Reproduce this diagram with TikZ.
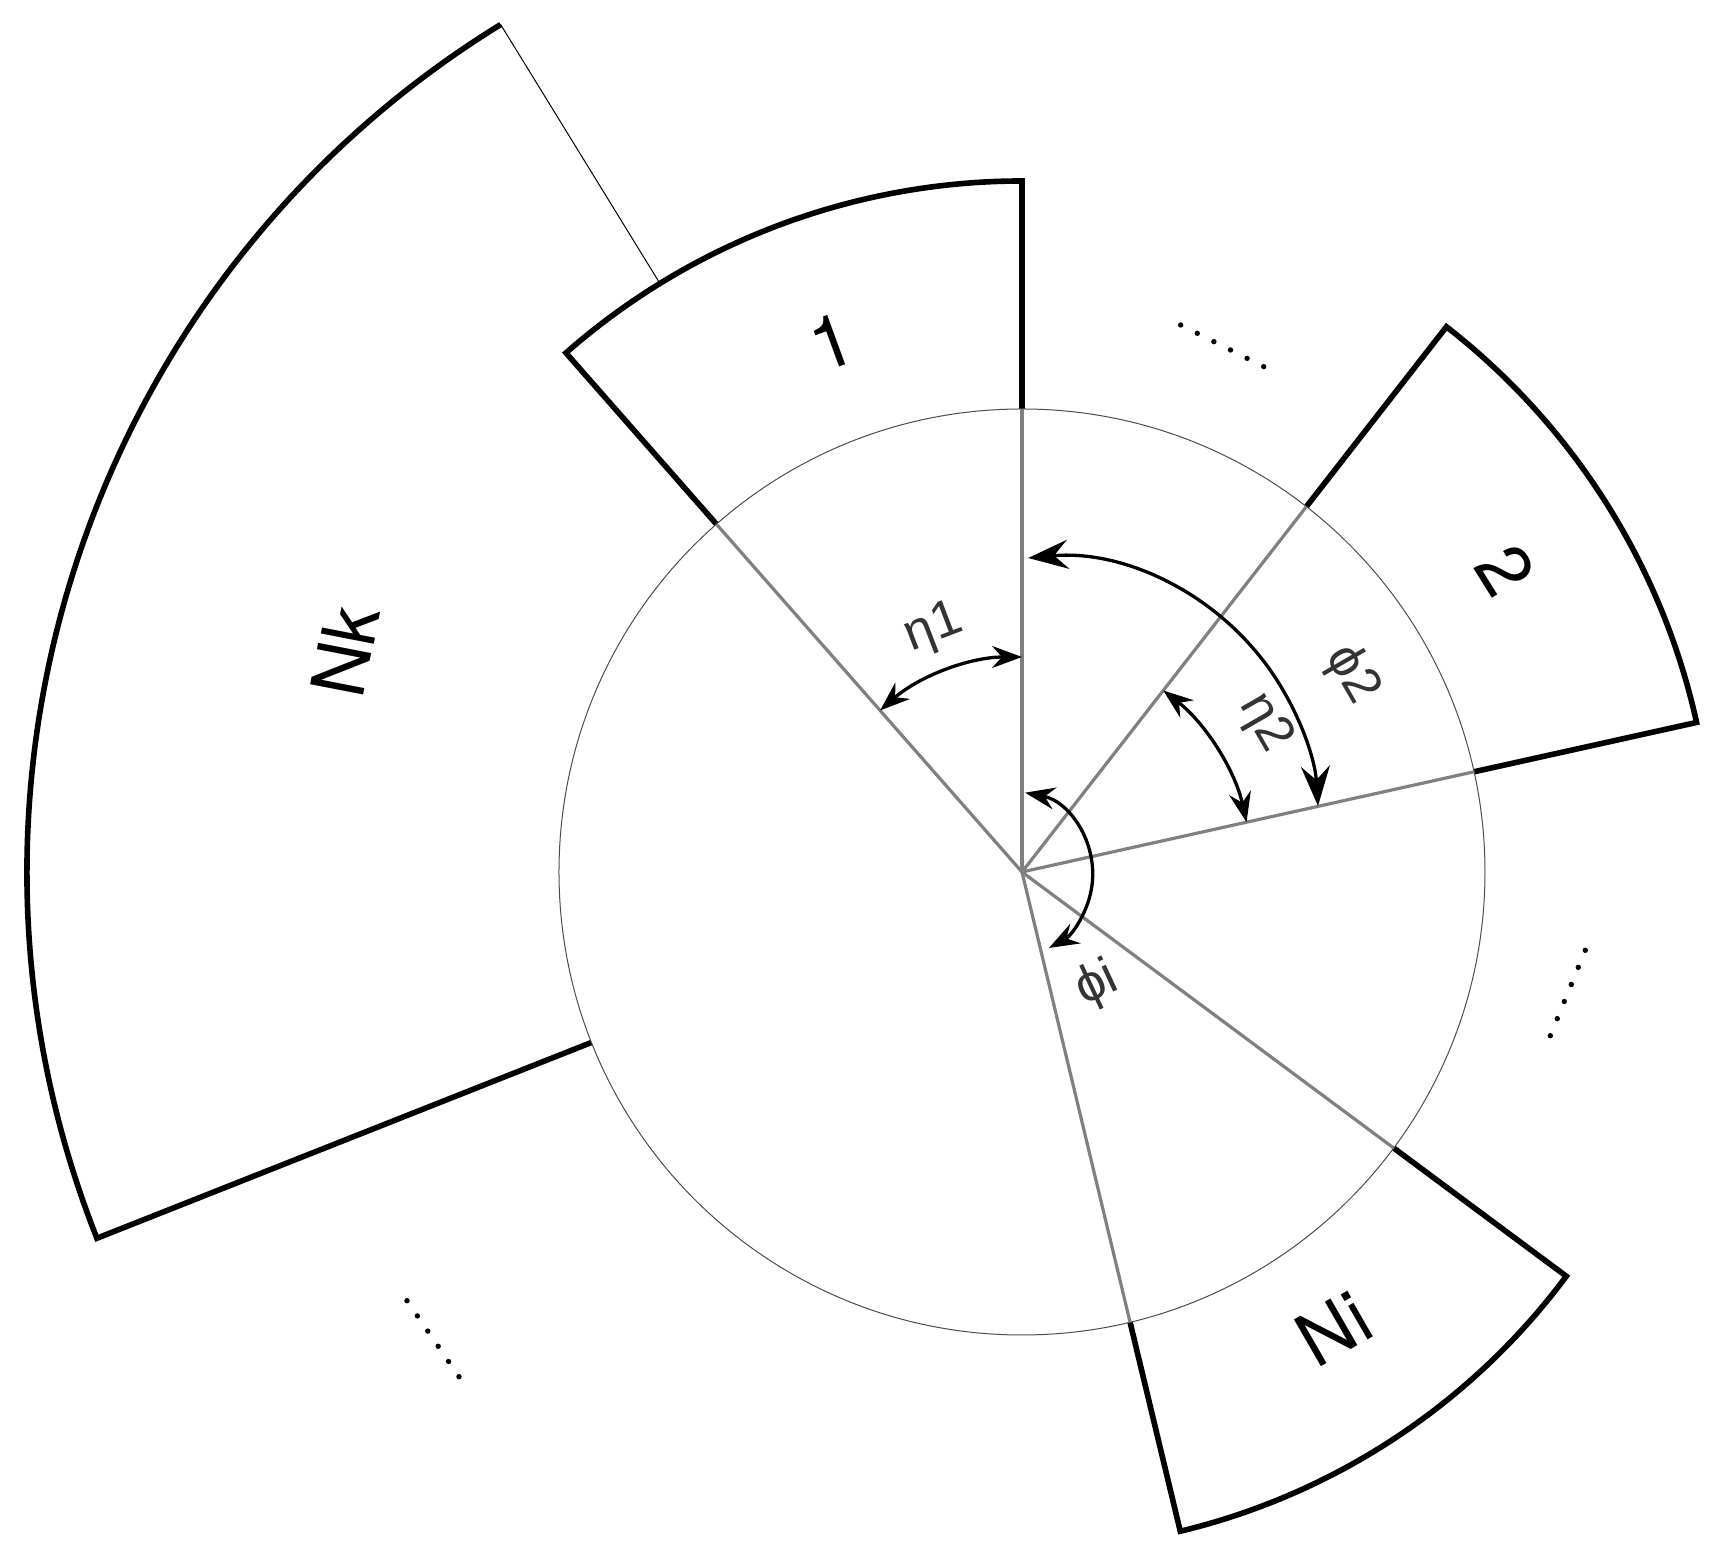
\documentclass[tikz,border=0pt]{standalone}
\usepackage{fontspec}
\setmainfont{Liberation Sans}
\newfontfamily\heros{TeX Gyre Heros}
\usetikzlibrary{arrows.meta}
\begin{document}
\begin{tikzpicture}[x=0.5pt,y=0.5pt,
  sector/.style={line width=2.8pt, line join=miter},
  thinedge/.style={line width=0.5pt},
  ray/.style={draw=black!50, line width=1.6pt},
  ring/.style={draw=black!70, line width=0.5pt},
  angarrow/.style={line width=1.65pt, {Stealth[length=15pt,width=11pt,inset=5pt]}-{Stealth[length=15pt,width=11pt,inset=5pt]}},
  bigarrow/.style={line width=1.65pt, {Stealth[length=20pt,width=14.5pt,inset=7pt]}-{Stealth[length=20pt,width=14.5pt,inset=7pt]}},
  seclabel/.style={font=\heros\fontsize{37}{40}\selectfont, inner sep=0pt},
  anglabel/.style={font=\fontsize{26}{28}\selectfont, text=black!80, inner sep=0pt},
  dotmark/.style={fill=black}]
\useasboundingbox (-1022,-673) rectangle (703,872);
\def\R{463}
\coordinate (O) at (0,0);
% sector Nk
\draw[thinedge] (121.6:995) -- (121.6:\R);
\draw[sector] (121.6:995) arc[start angle=121.6,end angle=201.6,radius=995] -- (201.6:\R);
% sector 1
\fill[white] (90:\R) -- (90:691) arc[start angle=90,end angle=131.3,radius=691] -- (131.3:\R) arc[start angle=131.3,end angle=90,radius=\R] -- cycle;
\draw[sector] (90:\R) -- (90:691) arc[start angle=90,end angle=131.3,radius=691] -- (131.3:\R);
% sector 2
\draw[sector] (12.5:\R) -- (12.5:691) arc[start angle=12.5,end angle=52.1,radius=691] -- (52.1:\R);
% sector Ni
\draw[sector] (-76.5:\R) -- (-76.5:678) arc[start angle=-76.5,end angle=-36.6,radius=678] -- (-36.6:\R);
% circle
\draw[ring] (O) circle[radius=\R];
% rays
\coordinate (r1) at (90:\R);
\coordinate (r2) at (131.3:\R);
\coordinate (r3) at (52.1:\R);
\coordinate (r4) at (12.5:\R);
\coordinate (r5) at (-36.6:\R);
\coordinate (r6) at (-76.5:\R);
\foreach \r in {r1,r2,r3,r4,r5,r6} \draw[ray] (O) -- (\r);
% angle arrows
\coordinate (e1s) at (131.3:215);
\draw[angarrow] (e1s) arc[start angle=131.3,end angle=90,radius=215];
\coordinate (e2s) at (52.1:230);
\draw[angarrow] (e2s) arc[start angle=52.1,end angle=12.5,radius=230];
\coordinate (p2c) at (30.3,48.8);
\draw[bigarrow] ([shift={(95.2:266.3)}]p2c) arc[start angle=95.2,end angle=3.7,radius=266.3];
\coordinate (pic) at (-12.7,-2.6);
\draw[angarrow] ([shift={(79.1:83.4)}]pic) arc[start angle=79.1,end angle=-61.6,radius=83.4];
% labels
\node[seclabel, rotate=20] (l1) at (-190.5,530.5) {1};
\node[seclabel, rotate=-58] (l2) at (484,302) {2};
\node[seclabel, rotate=79] (lk) at (-677,221) {Nk};
\node[seclabel, rotate=30] (li) at (311.7,-456.3) {Ni};
\node[anglabel, rotate=21] (eta1) at (-88,243) {η1};
\node[anglabel, rotate=-60] (eta2) at (243,149) {η2};
\node[anglabel, rotate=-60] (phi2) at (330,197) {ϕ2};
\node[anglabel, rotate=25] (phii) at (75,-113) {ϕi};
% dots
\foreach \i in {0,...,5} {
  \fill[dotmark] (158.7+16.6*\i, 547-8.33*\i) circle[radius=2.7];
  \fill[dotmark] (-615+10.4*\i, -428.7-15.2*\i) circle[radius=2.7];
  \fill[dotmark] (563.3-7*\i, -78.3-17.08*\i) circle[radius=2.7];
}
\end{tikzpicture}
\end{document}
